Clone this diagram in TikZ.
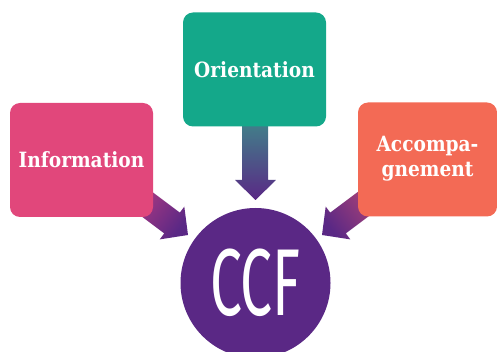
\documentclass[tikz,border=0pt]{standalone}
\usepackage{fontspec}
\newfontfamily\slab{DejaVu Serif}
\newfontfamily\hand{Fira Sans}
\definecolor{infopink}{HTML}{E1477B}
\definecolor{orteal}{HTML}{14A88A}
\definecolor{accsalmon}{HTML}{F36A55}
\definecolor{ccfpurple}{HTML}{5A2885}
\definecolor{orgrad}{HTML}{40838A}
\definecolor{infograd}{HTML}{C23E80}
\definecolor{accgrad}{HTML}{C24A72}
\tikzset{
  box/.style={rounded corners=10pt, minimum width=143pt, minimum height=114pt, inner sep=0pt,
    text=white, align=center, font=\slab\bfseries\fontsize{21}{25}\selectfont},
}
\begin{document}
\begin{tikzpicture}[x=1pt,y=-1pt]
\useasboundingbox (0,0) rectangle (497,352);
% block arrows (drawn beneath the boxes)
\shade[top color=orgrad, bottom color=ccfpurple]
  (242,120) -- (242,180) -- (235,180) -- (255.5,200) -- (276,180) -- (268,180) -- (268,120) -- cycle;
\shade[top color=infograd, bottom color=ccfpurple, shading angle=53]
  (116.2,197.4) -- (164.2,233.4) -- (159.7,239.4) -- (188,235) -- (184.3,206.6) -- (179.8,212.6) -- (131.8,176.6) -- cycle;
\shade[top color=accgrad, bottom color=ccfpurple, shading angle=-53]
  (393.8,197.4) -- (345.8,233.4) -- (350.3,239.4) -- (322,235) -- (325.7,206.6) -- (330.2,212.6) -- (378.2,176.6) -- cycle;
% boxes
\node[box, fill=infopink] (info) at (81.5,160) {\scalebox{0.885}[1]{Information}};
\node[box, fill=orteal] (orient) at (254.5,69.5) {\scalebox{0.885}[1]{Orientation}};
\node[box, fill=accsalmon, minimum width=139pt] (acc) at (427.5,159.5)
  {\scalebox{0.885}[1]{\begin{tabular}{@{}c@{}}Accompa-\\gnement\end{tabular}}};
% circle
\node[circle, fill=ccfpurple, minimum size=150pt, inner sep=0pt] (ccf) at (255.5,283) {};
\node[text=white, font=\hand\fontsize{95}{95}\selectfont, inner sep=0pt] (ccftext) at (ccf.center)
  {\scalebox{0.6}[1]{CCF}};
\end{tikzpicture}
\end{document}
